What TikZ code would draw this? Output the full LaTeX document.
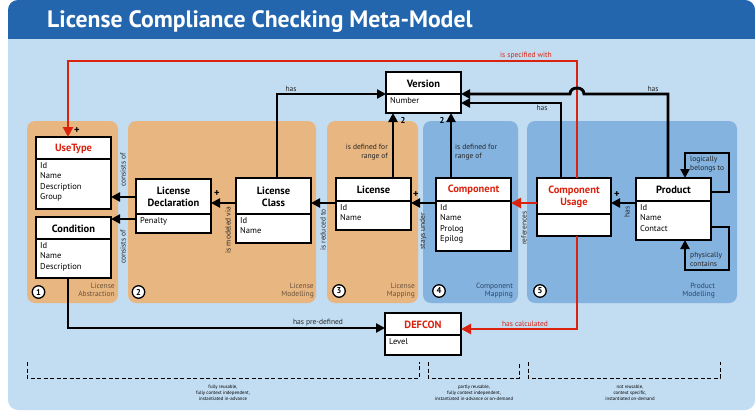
\documentclass[tikz,border=0pt]{standalone}
\usepackage{fontspec}
\setmainfont{PT Sans}
\usetikzlibrary{arrows.meta}
\definecolor{hdr}{RGB}{35,102,174}
\definecolor{bodyc}{RGB}{194,220,242}
\definecolor{orng}{RGB}{232,182,128}
\definecolor{blu}{RGB}{132,179,224}
\definecolor{redc}{RGB}{217,35,15}
\definecolor{olbl}{RGB}{105,82,60}
\definecolor{blbl}{RGB}{45,70,100}
\newcommand{\umlbox}[9]{%
  \node[cls, minimum width={#4-#2}, minimum height={#5-#3}] (#1) at (#2,#3) {};
  \draw[line width=1.5pt] (#2,#6) -- (#4,#6);
  \node[ttl, text=#9] (#1-t) at ({(#2+#4)/2},{(#3+#6)/2+0.5}) {#7};
  \node[attr] (#1-a) at ({#2+4},{#6+3.5}) {#8};
}
\begin{document}
\begin{tikzpicture}[x=1pt,y=-1pt,
  cls/.style={draw=black, line width=1.5pt, fill=white, inner sep=0, outer sep=0, anchor=north west},
  ttl/.style={font=\fontsize{10.5}{12}\selectfont\bfseries, align=center, inner sep=0},
  attr/.style={font=\fontsize{8.5}{10.3}\selectfont, align=left, anchor=north west, inner sep=0},
  lbl/.style={font=\fontsize{7.5}{9}\selectfont, inner sep=0, text=black!85},
  rlbl/.style={font=\fontsize{7.5}{9}\selectfont, inner sep=0, text=redc},
  plusmark/.style={font=\fontsize{10.5}{11}\selectfont\bfseries, inner sep=0},
  nummark/.style={font=\fontsize{8.5}{9}\selectfont\bfseries, inner sep=0},
  conn/.style={line width=2.9pt, -{Triangle[length=9pt,width=9pt]}},
  rconn/.style={line width=2.9pt, draw=redc, -{Triangle[length=10pt,width=10pt]}},
  opanel/.style={fill=orng, rounded corners=8},
  bpanel/.style={fill=blu, rounded corners=8},
  circ/.style={circle, draw=black, line width=1.3pt, fill=white, inner sep=0, minimum size=12.5pt, font=\fontsize{8.5}{9}\selectfont\bfseries},
  oplbl/.style={font=\fontsize{7.5}{8.2}\selectfont, align=right, anchor=north east, inner sep=0, text=olbl},
  bplbl/.style={font=\fontsize{7.5}{8.2}\selectfont, align=right, anchor=north east, inner sep=0, text=blbl},
  note/.style={font=\fontsize{4.8}{6}\selectfont, align=center, inner sep=0},
  bracket/.style={line width=1pt, dash pattern=on 4pt off 2.5pt}
]
\useasboundingbox (0,0) rectangle (755,412);
% background
\fill[bodyc, rounded corners=10] (8,0) rectangle (755,410);
\begin{scope}
  \clip (0,0) rectangle (755,39);
  \fill[hdr, rounded corners=10] (8,0) rectangle (755,70);
\end{scope}
\node[anchor=base west, text=white, font=\fontsize{23.7}{28}\selectfont\bfseries, inner sep=0] (title) at (47,27.5) {License Compliance Checking Meta-Model};

% panels
\fill[opanel] (27,121) rectangle (118,303);
\fill[opanel] (128,121) rectangle (316,303);
\fill[opanel] (327,121) rectangle (418,303);
\fill[bpanel] (423,121) rectangle (518,303);
\fill[bpanel] (527,121) rectangle (737,303);

\node[oplbl] (p1) at (115,283) {License\\Abstraction};
\node[oplbl] (p2) at (314,283) {License\\Modelling};
\node[oplbl] (p3) at (415,283) {License\\Mapping};
\node[bplbl] (p4) at (513,283) {Component\\Mapping};
\node[bplbl] (p5) at (715,283) {Product\\Modelling};

\node[circ] (c1) at (38.5,292) {1};
\node[circ] (c2) at (138.5,292) {2};
\node[circ] (c3) at (339,291) {3};
\node[circ] (c4) at (439,291) {4};
\node[circ] (c5) at (540,291) {5};

% classes
\umlbox{usetype}{36}{137}{111}{209}{159}{UseType}{Id\\Name\\Description\\Group}{redc}
\umlbox{condition}{36}{217}{111}{278}{239}{Condition}{Id\\Name\\Description}{black}
\umlbox{licdecl}{136}{179}{211}{233}{214}{License\\Declaration}{Penalty}{black}
\umlbox{licclass}{236}{178}{311}{243}{214}{License\\Class}{Id\\Name}{black}
\umlbox{license}{336}{178}{411}{230}{201}{License}{Id\\Name}{black}
\umlbox{component}{436}{178}{511}{251}{201}{Component}{Id\\Name\\Prolog\\Epilog}{redc}
\umlbox{compusage}{537}{178}{611}{236}{214}{Component\\Usage}{}{redc}
\umlbox{product}{636}{178}{711}{240}{201}{Product}{Id\\Name\\Contact}{black}
\umlbox{version}{386}{72}{461}{113}{94}{Version}{Number}{black}
\umlbox{defcon}{385}{313}{461}{355}{335}{DEFCON}{Level}{redc}

% red connectors
\draw[rconn] (577,0 |- compusage.north) -- (577,61) -- (68,61) -- (68,0 |- usetype.north);
\node[rlbl, anchor=south] (l-spec) at (526,59) {is specified with};
\draw[rconn] (577,0 |- compusage.south) -- (577,329) -- (defcon.east |- 0,329);
\node[rlbl, anchor=south] (l-calc) at (525,327) {has calculated};
\draw[rconn] (compusage.west |- 0,203) -- (component.east |- 0,203);
\node[lbl, rotate=90] (l-ref) at (524,228) {references};

% black connectors
\draw[conn] (licdecl.west |- 0,197) -- (usetype.east |- 0,197);
\draw[conn] (licdecl.west |- 0,219) -- (condition.east |- 0,219);
\node[lbl, rotate=90] (l-cons1) at (123,170) {consists of};
\node[lbl, rotate=90] (l-cons2) at (123,247) {consists of};
\draw[conn] (licclass.west |- 0,203) -- (licdecl.east |- 0,203);
\node[plusmark] (m2) at (217,194) {+};
\node[lbl, rotate=90] (l-mod) at (228,230) {is modeled via};
\draw[conn] (license.west |- 0,203) -- (licclass.east |- 0,203);
\node[lbl, rotate=90] (l-red) at (323,230) {is reduced to};
\draw[conn] (component.west |- 0,203) -- (license.east |- 0,203);
\node[plusmark] (m3) at (416,195) {+};
\node[lbl, rotate=90] (l-stay) at (423,231) {stays under};
\draw[conn] (product.west |- 0,203) -- (compusage.east |- 0,203);
\node[plusmark] (m4) at (617,195) {+};
\node[lbl, rotate=90] (l-phas) at (627,212) {has};
\node[plusmark] (m1) at (77,131) {+};

\draw[conn] (277,0 |- licclass.north) -- (277,94) -- (version.west |- 0,94);
\node[lbl, anchor=south] (l-has1) at (291,92) {has};
\draw[conn] (393,0 |- license.north) -- (393,0 |- version.south);
\node[nummark] (n1) at (403,120) {2};
\node[lbl, align=right, anchor=east] (l-def1) at (388,152) {is defined for\\range of};
\draw[conn] (451,0 |- component.north) -- (451,0 |- version.south);
\node[nummark] (n2) at (442,120) {2};
\node[lbl, align=left, anchor=west] (l-def2) at (455,152) {is defined for\\range of};
\draw[conn] (561,0 |- compusage.north) -- (561,103) -- (version.east |- 0,103);
\node[lbl, anchor=north] (l-has2) at (542,105) {has};
\draw[conn] (668,0 |- product.north) -- (668,94) -- (584,94) .. controls (584,86) and (570,86) .. (570,94) -- (version.east |- 0,94);
\node[lbl, anchor=south] (l-has3) at (653,92) {has};

% self loops
\draw[conn] (product.east |- 0,192) -- (729,192) -- (729,153) -- (685,153) -- (685,0 |- product.north);
\node[lbl, align=left, anchor=west] (l-log) at (690,164) {logically\\belongs to};
\draw[conn] (product.east |- 0,227) -- (729,227) -- (729,270) -- (685,270) -- (685,0 |- product.south);
\node[lbl, align=left, anchor=west] (l-phys) at (690,259) {physically\\contains};

% has pre-defined
\draw[conn] (68,0 |- condition.south) -- (68,328) -- (defcon.west |- 0,328);
\node[lbl, anchor=south] (l-pre) at (318,326) {has pre-defined};

% brackets
\draw[bracket] (27,362) -- (27,378) -- (419,378) -- (419,362);
\draw[bracket] (428,362) -- (428,378) -- (519,378) -- (519,362);
\draw[bracket] (528,362) -- (528,378) -- (720,378) -- (720,362);
\node[note] (b1) at (223,393) {fully reusable,\\fully context independent,\\instantiated in-advance};
\node[note] (b2) at (474,393) {partly reusable,\\fully context independent,\\instantiated in-advance or on-demand};
\node[note] (b3) at (630,393) {not reusable,\\context specific,\\instantiated on-demand};
\end{tikzpicture}
\end{document}
